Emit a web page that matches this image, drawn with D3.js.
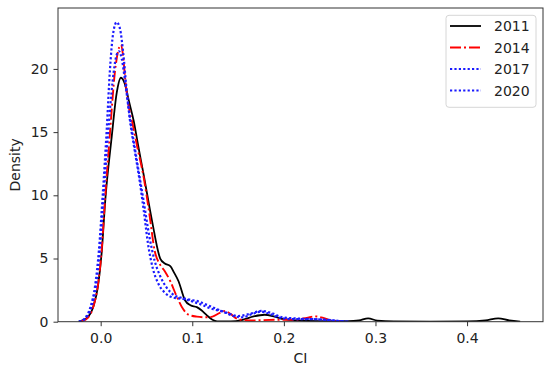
<!DOCTYPE html>
<meta charset='utf-8'>
<style>
	body { margin: 0; background: #fff; }
	svg { display: block; font-family: 'DejaVu Sans', sans-serif; }
</style>
<body>
	<div id='container'></div>
<script src='https://d3js.org/d3.v7.min.js'></script>
<script>
	// KDE curves: [CI, density]
	const kde2011 = [
		[-0.024, 0], [-0.015, 0.3], [-0.008, 1.2], [-0.003, 2.8], [0.001, 5.4], [0.005, 9.6],
		[0.012, 14.6], [0.0175, 18.1], [0.022, 19.3], [0.026, 18.9], [0.031, 17.4], [0.036, 15.9],
		[0.041, 13.9], [0.047, 11.6], [0.056, 8.0], [0.065, 5.0], [0.070, 4.6], [0.076, 4.4],
		[0.080, 3.9], [0.085, 3.2], [0.092, 1.7], [0.098, 1.3], [0.105, 1.15], [0.110, 0.9],
		[0.116, 0.5], [0.122, 0.15], [0.127, 0.03], [0.142, 0.02], [0.155, 0.15], [0.167, 0.42],
		[0.179, 0.55], [0.190, 0.4], [0.200, 0.2], [0.215, 0.1], [0.240, 0.05], [0.270, 0.04],
		[0.282, 0.1], [0.292, 0.27], [0.302, 0.08], [0.320, 0.02], [0.360, 0.01], [0.400, 0.02],
		[0.420, 0.1], [0.434, 0.27], [0.446, 0.1], [0.458, 0.01],
	];
	const kde2014 = [
		[-0.022, 0], [-0.014, 0.3], [-0.008, 1.2], [-0.003, 2.9], [0.001, 5.6], [0.005, 10.0],
		[0.010, 14.8], [0.0156, 19.8], [0.019, 21.4], [0.022, 21.9], [0.0245, 21.0], [0.0265, 19.4],
		[0.030, 17.3], [0.035, 15.6], [0.040, 13.8], [0.047, 11.4], [0.053, 8.6], [0.059, 5.6],
		[0.065, 4.5], [0.070, 4.0], [0.076, 3.2], [0.083, 2.0], [0.090, 1.0], [0.096, 0.55],
		[0.105, 0.4], [0.115, 0.35], [0.122, 0.4], [0.130, 0.7], [0.136, 0.85], [0.142, 0.6],
		[0.150, 0.2], [0.165, 0.1], [0.190, 0.15], [0.210, 0.15], [0.225, 0.3], [0.234, 0.42],
		[0.243, 0.3], [0.252, 0.08], [0.262, 0.01],
	];
	const kde2017 = [
		[-0.024, 0], [-0.017, 0.3], [-0.011, 1.2], [-0.006, 2.9], [-0.002, 5.6], [0.002, 9.8],
		[0.0066, 15.2], [0.010, 19.8], [0.0138, 22.9], [0.0175, 23.7], [0.021, 23.2], [0.0247, 21.2],
		[0.028, 18.6], [0.032, 15.9], [0.037, 13.6], [0.042, 11.4], [0.047, 8.8], [0.052, 6.0],
		[0.057, 4.2], [0.063, 3.0], [0.070, 2.3], [0.080, 1.9], [0.090, 1.8], [0.100, 1.6],
		[0.110, 1.35], [0.120, 1.05], [0.133, 0.8], [0.145, 0.45], [0.155, 0.35], [0.165, 0.6],
		[0.175, 0.8], [0.185, 0.6], [0.196, 0.3], [0.210, 0.2], [0.230, 0.2], [0.250, 0.12],
		[0.262, 0.04], [0.270, 0],
	];
	const kde2020 = [
		[-0.023, 0], [-0.016, 0.3], [-0.010, 1.2], [-0.005, 2.9], [-0.001, 5.6], [0.003, 9.8],
		[0.008, 14.8], [0.013, 19.0], [0.017, 21.0], [0.020, 21.4], [0.023, 20.8], [0.027, 18.8],
		[0.031, 16.6], [0.036, 14.3], [0.041, 12.1], [0.047, 9.5], [0.053, 6.8], [0.059, 4.8],
		[0.065, 3.6], [0.072, 2.7], [0.080, 2.1], [0.088, 1.9], [0.097, 1.75], [0.107, 1.6],
		[0.117, 1.3], [0.127, 1.0], [0.138, 0.7], [0.150, 0.45], [0.162, 0.6], [0.176, 0.85],
		[0.188, 0.65], [0.198, 0.35], [0.215, 0.25], [0.235, 0.2], [0.252, 0.12], [0.265, 0.03],
		[0.272, 0],
	];

	const years = [ '2011', '2014', '2017', '2020' ];
	const xTicks = [ 0.0, 0.1, 0.2, 0.3, 0.4 ];
	const yTicks = [ 0, 5, 10, 15, 20 ];

	const series = [
		{ name: '2011', data: kde2011, color: '#000000', dash: null, w: 1.8 },
		{ name: '2014', data: kde2014, color: '#ff0000', dash: '11,3,2,3', w: 1.9 },
		{ name: '2017', data: kde2017, color: '#1a1aff', dash: '2.2,2.2', w: 2.2 },
		{ name: '2020', data: kde2020, color: '#1a1aff', dash: '2.2,2.2', w: 2.2 },
	];

	const W = 550, H = 369;
	const margin = { top: 8, left: 58, right: 7, bottom: 47.3 },
		width = W - margin.left - margin.right,
		height = H - margin.top - margin.bottom;

	const xScale = d3.scaleLinear()
		.domain( [-0.0466, 0.4829] )
		.range( [0, width] );
	const yScale = d3.scaleLinear()
		.domain( [0, 24.82] )
		.range( [height, 0] );

	const svg = d3.select( '#container' )
		.append( 'svg' )
		.attr( 'width', W )
		.attr( 'height', H )
		.append( 'g' )
			.attr( 'transform', `translate(${margin.left},${margin.top})` );

	const xAxis = d3.axisBottom( xScale )
		.tickValues( xTicks )
		.tickFormat( d3.format( '.1f' ) )
		.tickSizeInner( 4.5 )
		.tickSizeOuter( 0 )
		.tickPadding( 7 );
	const yAxis = d3.axisLeft( yScale )
		.tickValues( yTicks )
		.tickFormat( d3.format( 'd' ) )
		.tickSizeInner( 4.5 )
		.tickSizeOuter( 0 )
		.tickPadding( 5 );

	const styleAxis = g => {
		g.select( '.domain' ).remove();
		g.selectAll( 'line' ).attr( 'stroke', '#333' ).attr( 'stroke-width', 1 );
		g.selectAll( 'text' )
			.attr( 'fill', '#222' )
			.style( 'font-size', '14px' )
			.style( 'font-family', "'DejaVu Sans', sans-serif" );
	};

	svg.append( 'g' )
		.attr( 'transform', `translate(0,${height})` )
		.call( xAxis )
		.call( styleAxis );
	svg.append( 'g' )
		.call( yAxis )
		.call( styleAxis );

	// curves
	const line = d3.line()
		.curve( d3.curveMonotoneX )
		.x( d => xScale( d[0] ) )
		.y( d => yScale( d[1] ) );

	svg.append( 'defs' ).append( 'clipPath' )
		.attr( 'id', 'bounds' )
		.append( 'rect' )
			.attr( 'width', width )
			.attr( 'height', height );

	svg.append( 'g' )
		.attr( 'clip-path', 'url(#bounds)' )
		.selectAll( 'path' )
		.data( series )
		.enter().append( 'path' )
			.attr( 'd', d => line( d.data ) )
			.attr( 'fill', 'none' )
			.attr( 'stroke', d => d.color )
			.attr( 'stroke-width', d => d.w )
			.attr( 'stroke-dasharray', d => d.dash );

	// frame
	svg.append( 'rect' )
		.attr( 'width', width )
		.attr( 'height', height )
		.attr( 'fill', 'none' )
		.attr( 'stroke', '#333' )
		.attr( 'stroke-width', 1 );

	// axis labels
	svg.append( 'text' )
		.attr( 'x', width / 2 )
		.attr( 'y', height + 41.5 )
		.attr( 'text-anchor', 'middle' )
		.attr( 'fill', '#222' )
		.style( 'font-size', '14px' )
		.text( 'CI' );
	svg.append( 'text' )
		.attr( 'transform', `translate(${20 - margin.left},${height / 2}) rotate(-90)` )
		.attr( 'text-anchor', 'middle' )
		.attr( 'fill', '#222' )
		.style( 'font-size', '14px' )
		.text( 'Density' );

	// legend
	const legend = svg.append( 'g' )
		.attr( 'transform', `translate(${446 - margin.left},${15.3 - margin.top})` );
	legend.append( 'rect' )
		.attr( 'width', 90 )
		.attr( 'height', 92 )
		.attr( 'rx', 3 )
		.attr( 'fill', '#fff' )
		.attr( 'fill-opacity', 0.8 )
		.attr( 'stroke', '#d6d6d6' );
	const rows = legend.selectAll( '.row' )
		.data( series )
		.enter().append( 'g' )
			.attr( 'class', 'row' )
			.attr( 'transform', ( d, i ) => `translate(0,${10.7 + i * 21.5})` );
	rows.append( 'line' )
		.attr( 'x1', 4 )
		.attr( 'x2', 35 )
		.attr( 'stroke', d => d.color )
		.attr( 'stroke-width', d => d.w )
		.attr( 'stroke-dasharray', d => d.dash );
	rows.append( 'text' )
		.attr( 'x', 48 )
		.attr( 'dy', '0.36em' )
		.attr( 'fill', '#222' )
		.style( 'font-size', '14px' )
		.text( ( d, i ) => years[i] );
</script>
</body>
